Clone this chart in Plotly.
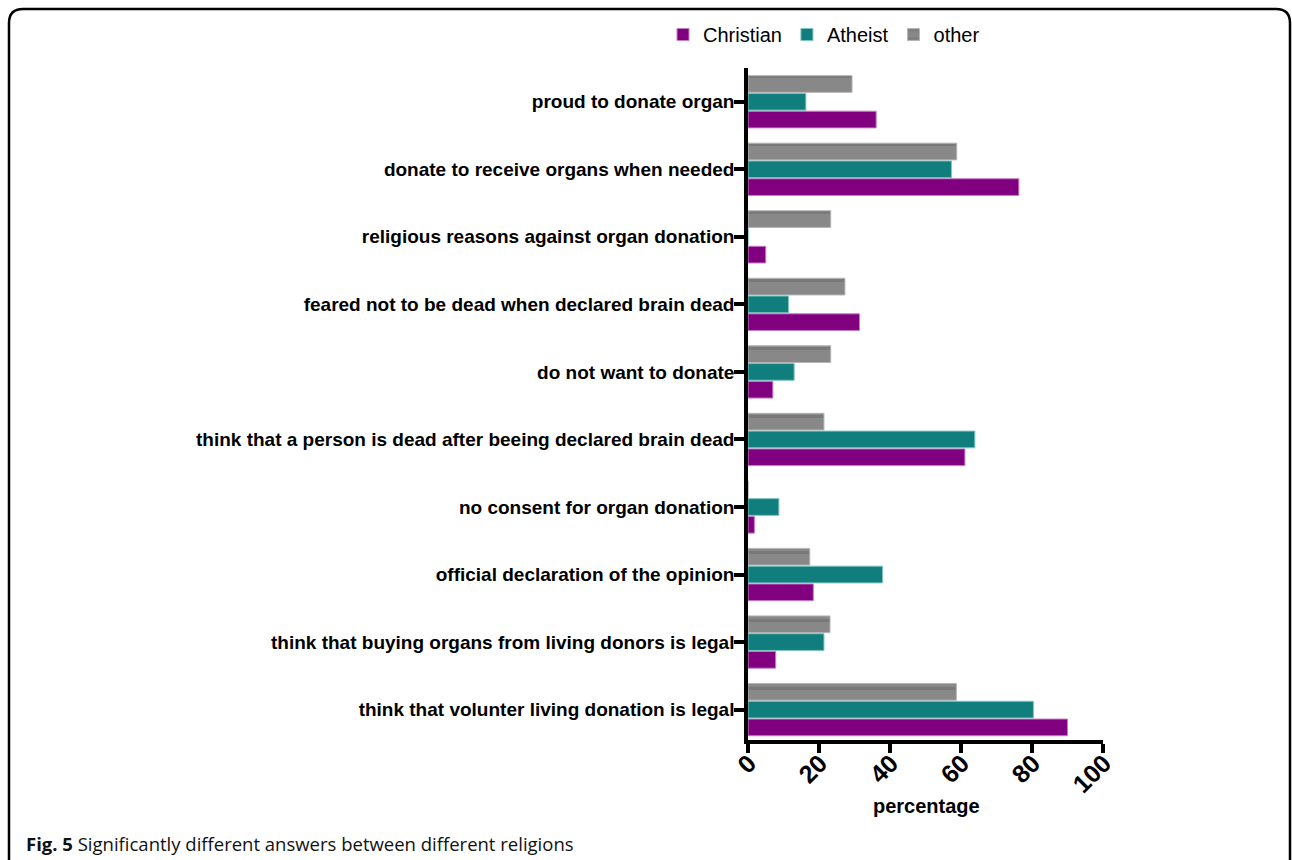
import plotly.graph_objects as go

# categories listed top-to-bottom as in the figure
categories = [
    "proud to donate organ",
    "donate to receive organs when needed",
    "religious reasons against organ donation",
    "feared not to be dead when declared brain dead",
    "do not want to donate",
    "think that a person is dead after beeing declared brain dead",
    "no consent for organ donation",
    "official declaration of the opinion",
    "think that buying organs from living donors is legal",
    "think that volunter living donation is legal",
]
christian = [36.1, 76.3, 5.0, 31.4, 7.0, 61.1, 1.8, 18.4, 7.8, 90.0]
atheist = [16.3, 57.3, 0.0, 11.4, 13.0, 63.9, 8.7, 37.9, 21.4, 80.4]
other = [29.3, 58.8, 23.3, 27.3, 23.3, 21.4, 0.0, 17.4, 23.1, 58.7]
x_ticks = [0, 20, 40, 60, 80, 100]

W, H = 1292, 860
L, R, T, B = 748, 189, 68, 120
PW, PH = W - L - R, H - T - B


def px(xp):
    return (xp - L) / PW


def py(yp):
    return 1 - (yp - T) / PH


# plot bottom-to-top so Christian bar is lowest in each group
cats_bt = categories[::-1]

fig = go.Figure()
fig.add_trace(go.Bar(
    y=cats_bt, x=christian[::-1], orientation="h", name="Christian",
    marker=dict(color="#800080", line=dict(color="#c57fc5", width=1)),
))
fig.add_trace(go.Bar(
    y=cats_bt, x=atheist[::-1], orientation="h", name="Atheist",
    marker=dict(color="#0f7e7c", line=dict(color="#7fc3c0", width=1)),
))
fig.add_trace(go.Bar(
    y=cats_bt, x=other[::-1], orientation="h", name="other",
    marker=dict(color="#888888", line=dict(color="#b5b5b5", width=1),
                pattern=dict(shape="-", fgcolor="#6a6a6a", bgcolor="#888888",
                             size=17, solidity=0.18)),
))

# rounded frame
fl, fr, ft, fb, rr = 9, 1290, 9, 880, 14
path = (f"M {px(fl)},{py(fb)} L {px(fl)},{py(ft+rr)} "
        f"Q {px(fl)},{py(ft)} {px(fl+rr)},{py(ft)} "
        f"L {px(fr-rr)},{py(ft)} Q {px(fr)},{py(ft)} {px(fr)},{py(ft+rr)} "
        f"L {px(fr)},{py(fb)}")

fig.update_layout(
    width=W, height=H,
    margin=dict(l=L, r=R, t=T, b=B, autoexpand=False),
    paper_bgcolor="white", plot_bgcolor="white",
    barmode="group", bargap=0.21, bargroupgap=0.06,
    font=dict(family="Liberation Sans, Arial, sans-serif", color="black"),
    showlegend=True,
    legend=dict(orientation="h", x=px(663), y=py(15), xanchor="left", yanchor="top",
                font=dict(size=20), traceorder="normal", bgcolor="rgba(0,0,0,0)"),
    xaxis=dict(
        range=[0, 100], tickvals=x_ticks, ticktext=[str(v) for v in x_ticks],
        tickangle=-45, tickfont=dict(size=25, family="Liberation Sans, Arial", weight="bold"),
        ticklabelstandoff=-14, ticklabelshift=1,
        showgrid=False, zeroline=False, showline=True, linecolor="black", linewidth=3.5,
        ticks="outside", ticklen=9, tickwidth=3.5, tickcolor="black",
    ),
    yaxis=dict(
        range=[-0.45, 9.5], showgrid=False, zeroline=False, showline=True,
        linecolor="black", linewidth=3.5, ticks="outside", ticklen=10, tickwidth=3.5,
        tickcolor="black", ticklabelstandoff=-4,
        tickfont=dict(size=19, family="Liberation Sans, Arial", weight="bold"),
    ),
    shapes=[dict(type="path", xref="paper", yref="paper", path=path,
                 line=dict(color="black", width=2.5), layer="above")],
    annotations=[
        dict(xref="paper", yref="paper", x=px(926), y=py(806), xanchor="center",
             yanchor="middle", showarrow=False, text="<b>percentage</b>",
             font=dict(size=20, family="Liberation Sans, Arial", color="black")),
        dict(xref="paper", yref="paper", x=px(24), y=py(844), xanchor="left",
             yanchor="middle", showarrow=False,
             text="<b>Fig. 5</b> Significantly different answers between different religions",
             font=dict(family="Open Sans, sans-serif", size=18.5, color="#111111")),
    ],
)

fig.write_html("out.html")
